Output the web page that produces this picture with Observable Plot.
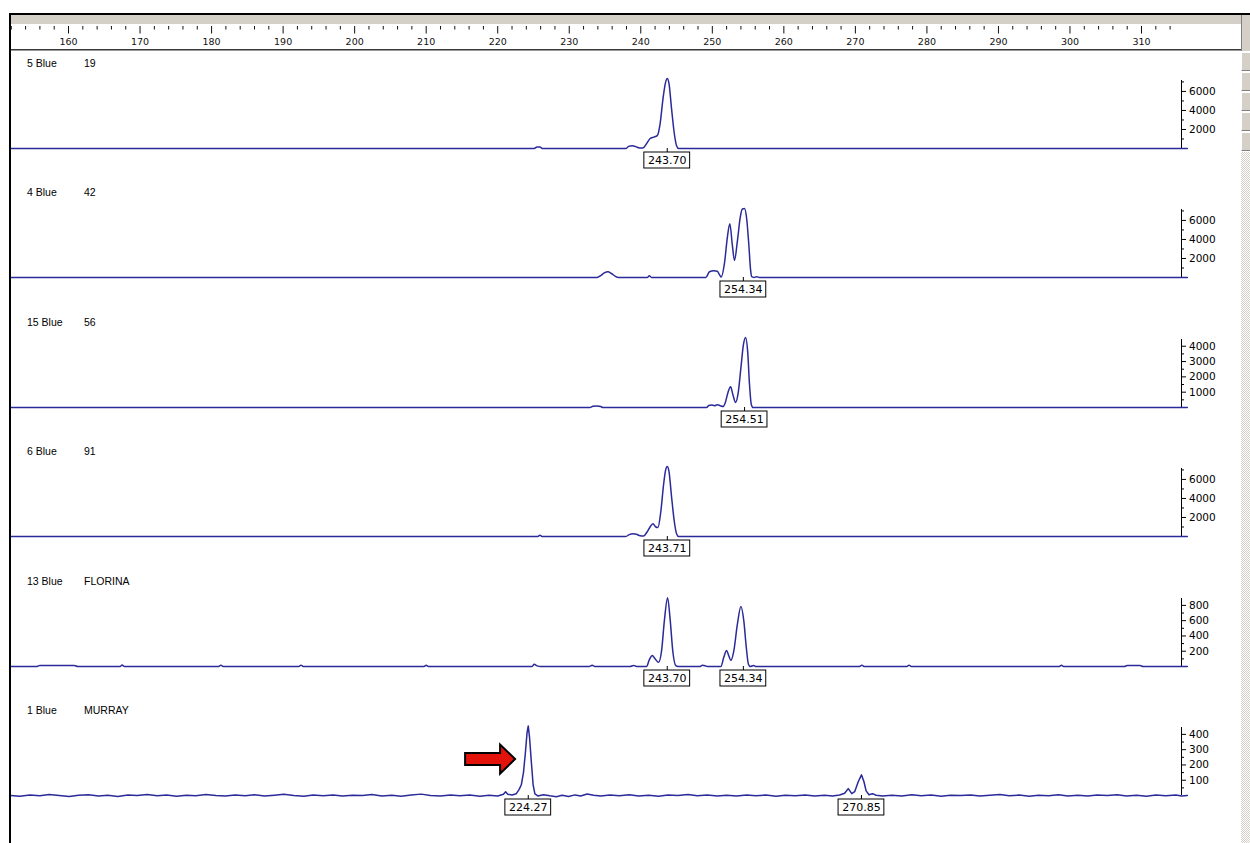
<!DOCTYPE html>
<html><head><meta charset="utf-8">
<script src="https://cdn.jsdelivr.net/npm/d3@7"></script>
<script src="https://cdn.jsdelivr.net/npm/@observablehq/plot@0.6"></script>
<style>
html,body{margin:0;padding:0;background:#fff;}
body{width:1250px;height:843px;overflow:hidden;position:relative;font-family:"DejaVu Sans",sans-serif;}
.abs{position:absolute;}
.lbl{position:absolute;font-family:"Liberation Sans",Arial,sans-serif;font-size:10.5px;line-height:12px;color:#000;white-space:pre;}
.icon{position:absolute;left:1241px;width:8px;height:17px;background:#d4d0c8;border:1px solid #808080;border-left-color:#fff;border-top-color:#fff;}
</style></head><body>
<script>
// ---------------- data ----------------
const sampleIds   = ["5", "4", "15", "6", "13", "1"];
const sampleNames = ["19", "42", "56", "91", "FLORINA", "MURRAY"];
const dyeName = "Blue";
const peakCalls = [[243.70], [254.34], [254.51], [243.71], [243.70, 254.34], [224.27, 270.85]];
const yMax = [7150, 7150, 4440, 7150, 890, 445];
const yMajorTicks = [
  [2000, 4000, 6000], [2000, 4000, 6000], [1000, 2000, 3000, 4000],
  [2000, 4000, 6000], [200, 400, 600, 800], [100, 200, 300, 400]
];
const yMinorTicks = [
  [1000, 3000, 5000, 7000], [1000, 3000, 5000, 7000], [500, 1500, 2500, 3500],
  [1000, 3000, 5000, 7000], [100, 300, 500, 700], [50, 150, 250, 350]
];
const rulerLabels = [160,170,180,190,200,210,220,230,240,250,260,270,280,290,300,310];

// traces: [size (bp), signal]
const trace19 = [[151.9,0],[225.1,0],[225.5,170],[225.9,150],[226.3,0],[237.9,0],[238.3,220],[238.8,280],[239.3,200],[239.8,60],[240.3,40],[240.8,500],[241.3,1050],[241.8,1200],[242.3,1350],[242.7,2600],[243.1,5200],[243.45,6900],[243.7,7350],[243.95,6800],[244.3,4200],[244.7,1500],[245.0,300],[245.3,0],[316.4,0]];
const trace42 = [[151.9,0],[233.9,0],[234.4,200],[234.9,480],[235.4,600],[235.9,420],[236.4,150],[236.9,0],[240.9,0],[241.2,180],[241.5,0],[249.1,0],[249.6,600],[250.2,700],[250.7,650],[251.0,300],[251.25,50],[251.7,1500],[252.1,4200],[252.45,5650],[252.8,3400],[253.1,1800],[253.5,3800],[253.9,6300],[254.2,7200],[254.5,7250],[254.8,6200],[255.1,3500],[255.35,800],[255.5,100],[255.8,0],[256.2,90],[256.6,0],[316.4,0]];
const trace56 = [[151.9,0],[232.9,0],[233.3,80],[233.9,100],[234.4,60],[234.7,0],[249.2,0],[249.5,130],[249.9,170],[250.3,120],[250.7,180],[251.1,120],[251.5,60],[251.8,300],[252.2,1000],[252.55,1350],[252.9,800],[253.25,330],[253.6,900],[254.0,2600],[254.35,4100],[254.65,4570],[254.95,3600],[255.2,1500],[255.45,200],[255.7,0],[316.4,0]];
const trace91 = [[151.9,0],[225.6,0],[225.9,120],[226.2,0],[237.9,0],[238.4,200],[238.9,280],[239.4,230],[239.9,80],[240.4,60],[240.9,500],[241.3,1000],[241.7,1350],[242.1,1000],[242.4,950],[242.8,2600],[243.15,5200],[243.45,6900],[243.7,7350],[243.95,6800],[244.3,4200],[244.7,1500],[245.0,300],[245.3,0],[316.4,0]];
const traceFlorina = [[151.9,0],[155.6,0],[156.0,14],[160.8,14],[161.3,0],[167.2,0],[167.5,20],[167.8,0],[181.0,0],[181.3,18],[181.6,0],[192.2,0],[192.5,18],[192.8,0],[209.7,0],[210.0,15],[210.3,0],[224.8,0],[225.1,28],[225.5,8],[226.0,0],[232.8,0],[233.2,18],[233.6,0],[238.5,0],[239.0,14],[239.4,0],[240.8,0],[241.2,90],[241.6,145],[242.0,100],[242.5,55],[242.9,200],[243.3,600],[243.75,900],[244.1,620],[244.5,180],[244.9,10],[245.2,0],[248.3,0],[248.6,15],[249.0,10],[249.3,0],[251.2,0],[251.6,120],[252.0,210],[252.3,140],[252.6,80],[253.0,200],[253.5,550],[254.0,785],[254.4,600],[254.75,250],[255.05,30],[255.3,0],[255.8,12],[256.1,0],[270.6,0],[270.9,18],[271.2,0],[277.2,0],[277.5,18],[277.8,0],[298.5,0],[298.8,15],[299.1,0],[307.6,0],[308.0,12],[309.8,12],[310.2,0],[316.4,0]];
const traceMurray = [[151.9,0],[153.2,-5],[154.6,3],[156.0,-2],[157.3,6],[158.7,0],[160.1,-6],[161.4,2],[162.8,5],[164.2,-3],[165.5,1],[166.9,-6],[168.3,4],[169.6,0],[171.0,6],[172.4,-2],[173.7,3],[175.1,-5],[176.5,2],[177.8,-1],[179.2,7],[180.6,0],[181.9,-4],[183.3,3],[184.7,-2],[186.0,5],[187.4,-3],[188.8,2],[190.1,8],[191.5,0],[192.9,-5],[194.2,3],[195.6,-2],[197.0,4],[198.3,-4],[199.7,2],[201.1,0],[202.4,6],[203.8,-3],[205.2,2],[206.5,-5],[207.9,3],[209.3,9],[210.6,0],[212.0,-4],[213.4,3],[214.7,-2],[216.1,4],[217.5,-5],[218.8,2],[220.0,-3],[220.8,8],[221.1,24],[221.4,8],[222.0,3],[222.6,12],[223.0,40],[223.3,70],[223.6,150],[223.85,270],[224.1,410],[224.27,455],[224.45,380],[224.7,220],[224.95,70],[225.2,10],[225.6,-3],[226.4,5],[227.3,-2],[228.2,-8],[229.0,2],[229.9,-6],[230.8,4],[231.6,-3],[232.5,10],[233.4,2],[234.4,-4],[235.7,3],[237.0,-2],[238.4,5],[239.7,-3],[241.1,2],[242.5,-5],[243.8,3],[245.2,0],[246.6,6],[247.9,-2],[249.3,3],[250.7,-4],[252.0,2],[253.4,-3],[254.8,4],[256.1,-1],[257.5,3],[258.9,-5],[260.2,2],[261.6,-2],[263.0,4],[264.3,-3],[265.7,2],[266.8,-4],[267.8,3],[268.5,15],[269.0,45],[269.5,12],[269.9,25],[270.4,90],[270.85,135],[271.2,90],[271.5,30],[271.9,5],[272.4,12],[272.9,2],[273.8,-4],[275.1,2],[276.5,-3],[277.9,5],[279.2,-2],[280.6,3],[282.0,-5],[283.3,2],[284.7,0],[286.1,4],[287.4,-3],[288.8,2],[290.2,6],[291.5,-2],[292.9,3],[294.3,-5],[295.6,2],[297.0,-1],[298.4,5],[299.7,-3],[301.1,2],[302.5,-4],[303.8,3],[305.2,0],[306.6,5],[307.9,-3],[309.3,2],[310.7,-5],[312.0,3],[313.4,-2],[314.8,4],[315.6,-3],[316.4,0]];
const traces = [trace19, trace42, trace56, trace91, traceFlorina, traceMurray];
const arrowTip = {size: 222.5, value: 235}; // red arrow in the MURRAY panel

// ---------------- layout ----------------
const W = 1240;
const X_DOMAIN = [151.89, 315.59];
const M_LEFT = 10, M_RIGHT = 59;
const PLOT_H = 68, M_TOP = 30, M_BOTTOM = 32;
const BASE0 = 148, STEP = 129.4;
const TRACE = "#2a2a9a";
const FONT = "DejaVu Sans";
const body = document.body;

function div(css, cls) {
  const d = document.createElement("div");
  d.className = cls || "abs";
  Object.assign(d.style, css);
  body.appendChild(d);
  return d;
}

// ruler
const rulerMinor = d3.range(152, 315, 2).filter(v => v % 10 !== 0);
const ruler = Plot.plot({
  width: W, height: 26, marginTop: 0, marginBottom: 0, marginLeft: M_LEFT, marginRight: M_RIGHT,
  x: {domain: X_DOMAIN, axis: null},
  style: {background: "transparent", overflow: "visible", fontFamily: FONT},
  marks: [
    Plot.ruleX(rulerMinor, {x: d => d, insetTop: 2, insetBottom: 20.5, stroke: "#111"}),
    Plot.ruleX(rulerLabels, {x: d => d, insetTop: 2, insetBottom: 16.5, stroke: "#111"}),
    Plot.text(rulerLabels, {x: d => d, text: d => String(d), dy: 4.5, fontSize: 9.5, fontFamily: FONT, fill: "#111"})
  ]
});
Object.assign(ruler.style, {position: "absolute", left: "0px", top: "24px"});
body.appendChild(ruler);

// panels
traces.forEach((trace, i) => {
  const base = BASE0 + i * STEP;
  const top = yMax[i];
  const xEnd = X_DOMAIN[1];
  const chart = Plot.plot({
    width: W, height: M_TOP + PLOT_H + M_BOTTOM,
    marginLeft: M_LEFT, marginRight: M_RIGHT, marginTop: M_TOP, marginBottom: M_BOTTOM,
    x: {domain: X_DOMAIN, axis: null},
    y: {domain: [0, top], axis: null},
    style: {background: "transparent", overflow: "visible", fontFamily: FONT},
    marks: [
      Plot.ruleX([xEnd], {x: d => d, y1: () => 0, y2: () => top, stroke: "#000"}),
      Plot.ruleY(yMajorTicks[i], {y: d => d, x1: () => xEnd, x2: () => xEnd, insetRight: -5, stroke: "#000"}),
      Plot.ruleY(yMinorTicks[i], {y: d => d, x1: () => xEnd, x2: () => xEnd, insetRight: -3, stroke: "#000"}),
      Plot.text(yMajorTicks[i], {x: () => xEnd, y: d => d, text: d => String(d), dx: 7.5, textAnchor: "start", fontSize: 10.5, fontFamily: FONT, fill: "#000"}),
      Plot.line(trace, {x: d => d[0], y: d => d[1], stroke: TRACE, strokeWidth: 1.5, curve: i === 5 ? "linear" : "monotone-x"}),
      Plot.ruleX(peakCalls[i], {x: d => d, y1: () => 0, y2: () => 0, insetBottom: -4, stroke: "#000"}),
      Plot.rect(peakCalls[i], {x1: d => d - 3.2, x2: d => d + 3.2, y1: () => 0, y2: () => 0, insetTop: 4, insetBottom: -20, fill: "#fff", stroke: "#000", strokeWidth: 1}),
      Plot.text(peakCalls[i], {x: d => d, y: () => 0, text: d => d.toFixed(2), dy: 12, fontSize: 11, fontFamily: FONT, fill: "#000"})
    ]
  });
  Object.assign(chart.style, {position: "absolute", left: "0px", top: (base - M_TOP - PLOT_H) + "px"});
  body.appendChild(chart);

  if (i === 5) {
    const sx = chart.scale("x"), sy = chart.scale("y");
    d3.select(chart).append("path")
      .attr("transform", `translate(${sx.apply(arrowTip.size)},${sy.apply(arrowTip.value)})`)
      .attr("d", "M0,0L-15,-14.5L-15,-6L-50,-6L-50,6L-15,6L-15,14.5Z")
      .attr("fill", "#e3120b").attr("stroke", "#000").attr("stroke-width", 2).attr("stroke-linejoin", "miter");
  }

  const l1 = div({left: "27px", top: (base - 91) + "px"}, "lbl");
  l1.textContent = `${sampleIds[i]} ${dyeName}`;
  const l2 = div({left: "84px", top: (base - 91) + "px"}, "lbl");
  l2.textContent = sampleNames[i];
});

// window chrome
div({left: "9px", top: "13px", width: "1241px", height: "2px", background: "#000"});
div({left: "11px", top: "15px", width: "1239px", height: "9px", background: "#d4d0c8"});
div({left: "11px", top: "49px", width: "1231px", height: "1px", background: "#3a3a3a"});
div({left: "11px", top: "50px", width: "1231px", height: "1px", background: "#9a9a9a"});
div({left: "9px", top: "13px", width: "2px", height: "830px", background: "#000"});
div({left: "1241px", top: "15px", width: "9px", height: "36px", background: "#d4d0c8", borderLeft: "1px solid #808080"});
[52, 72, 92, 112, 132].forEach(t => div({top: t + "px"}, "icon"));
div({left: "1241px", top: "152px", width: "9px", height: "691px",
     background: "repeating-conic-gradient(#d4d0c8 0 25%, #ffffff 0 50%) 0 0/2px 2px"});
</script>
</body></html>
